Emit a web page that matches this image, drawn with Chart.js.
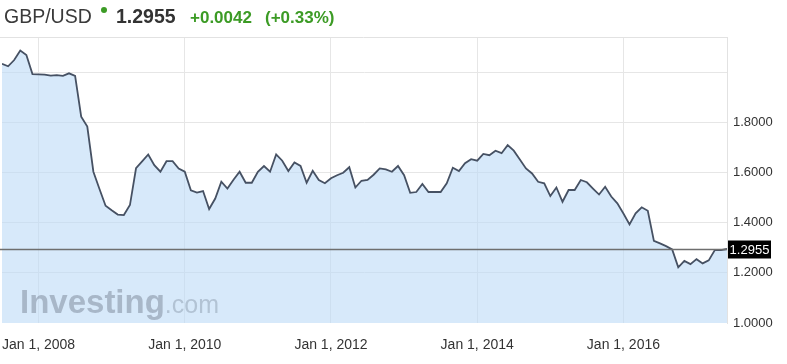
<!DOCTYPE html>
<html>
<head>
<meta charset="utf-8">
<script src="https://cdn.jsdelivr.net/npm/chart.js@4/dist/chart.umd.min.js"></script>
<style>
  html,body{margin:0;padding:0;background:#fff;}
  #wrap{position:relative;width:787px;height:364px;overflow:hidden;font-family:"Liberation Sans",Arial,sans-serif;}
  #c{position:absolute;left:0;top:0;}
  .h{position:absolute;white-space:nowrap;line-height:1;}
  #dot{position:absolute;left:101px;top:7px;width:6px;height:6px;border-radius:50%;background:#3c9b25;}
</style>
</head>
<body>
<div id="wrap">
  <canvas id="c" width="787" height="364"></canvas>
  <span class="h" style="left:4px;top:6.5px;font-size:19.5px;color:#3a3a3a;">GBP/USD</span>
  <span id="dot"></span>
  <span class="h" style="left:116px;top:6.5px;font-size:19.5px;font-weight:bold;color:#333;">1.2955</span>
  <span class="h" style="left:190px;top:8.6px;font-size:17px;font-weight:bold;color:#3c9b25;">+0.0042</span>
  <span class="h" style="left:265px;top:8.6px;font-size:17px;font-weight:bold;color:#3c9b25;">(+0.33%)</span>
</div>
<script>
// ---- data ----
const startYear = 2007;
const startMonth = 7; // July 2007, monthly closes
const rates = [
  // 2007 Jul-Dec
  2.035, 2.025, 2.050, 2.088, 2.070, 1.994,
  // 2008
  1.993, 1.992, 1.988, 1.990, 1.987, 1.997, 1.987, 1.824, 1.784, 1.604, 1.535, 1.468,
  // 2009
  1.450, 1.433, 1.431, 1.471, 1.618, 1.645, 1.673, 1.630, 1.604, 1.646, 1.646, 1.617,
  // 2010
  1.604, 1.530, 1.521, 1.527, 1.455, 1.497, 1.564, 1.537, 1.572, 1.604, 1.560, 1.560,
  // 2011
  1.604, 1.627, 1.604, 1.673, 1.648, 1.607, 1.641, 1.627, 1.560, 1.608, 1.571, 1.558,
  // 2012
  1.578, 1.590, 1.600, 1.622, 1.541, 1.568, 1.571, 1.592, 1.617, 1.613, 1.604, 1.627,
  // 2013
  1.590, 1.520, 1.523, 1.555, 1.523, 1.523, 1.523, 1.558, 1.620, 1.607, 1.638, 1.654,
  // 2014
  1.648, 1.675, 1.670, 1.688, 1.678, 1.710, 1.688, 1.653, 1.617, 1.597, 1.564, 1.558,
  // 2015
  1.507, 1.541, 1.484, 1.531, 1.531, 1.571, 1.562, 1.537, 1.513, 1.544, 1.505, 1.478,
  // 2016
  1.437, 1.394, 1.438, 1.462, 1.448, 1.328, 1.318, 1.307, 1.294, 1.222, 1.248, 1.235,
  // 2017 Jan-Jun
  1.255, 1.238, 1.250, 1.291, 1.291, 1.2955
];
const lastPrice = 1.2955;
const xTickMonths = ['2008-01', '2010-01', '2012-01', '2014-01', '2016-01'];
const xTickLabels = ['Jan 1, 2008', 'Jan 1, 2010', 'Jan 1, 2012', 'Jan 1, 2014', 'Jan 1, 2016'];
const yTicks = [1.0, 1.2, 1.4, 1.6, 1.8, 2.0];
const yTickLabels = ['1.0000', '1.2000', '1.4000', '1.6000', '1.8000', ''];

// month keys for each point
const months = rates.map((_, i) => {
  const t = (startMonth - 1) + i;
  const y = startYear + Math.floor(t / 12);
  const m = (t % 12) + 1;
  return y + '-' + String(m).padStart(2, '0');
});
const points = rates.map((v, i) => ({ x: i, y: v }));
const xTickIdx = xTickMonths.map(k => months.indexOf(k));

const FONT = '"Liberation Sans", Arial, sans-serif';

const decor = {
  id: 'decor',
  beforeDatasetsDraw(chart) {
    const { ctx, chartArea: a } = chart;
    ctx.save();
    ctx.strokeStyle = '#e2e2e2';
    ctx.lineWidth = 1;
    ctx.beginPath();
    ctx.moveTo(0, a.top + 0.5);
    ctx.lineTo(a.right, a.top + 0.5);
    ctx.stroke();
    ctx.restore();
  },
  afterDatasetsDraw(chart) {
    const { ctx, chartArea: a, scales } = chart;
    ctx.save();
    // watermark
    ctx.textBaseline = 'alphabetic';
    ctx.textAlign = 'left';
    ctx.font = 'bold 33px ' + FONT;
    ctx.fillStyle = 'rgba(110,122,140,0.45)';
    ctx.fillText('Investing', 20, 313);
    const w = ctx.measureText('Investing').width;
    ctx.font = '25px ' + FONT;
    ctx.fillStyle = 'rgba(110,122,140,0.35)';
    ctx.fillText('.com', 20 + w, 313);
    // current price line
    const py = Math.round(scales.y.getPixelForValue(lastPrice)) + 0.5;
    ctx.strokeStyle = '#6e6e6e';
    ctx.lineWidth = 1.5;
    ctx.beginPath();
    ctx.moveTo(0, py);
    ctx.lineTo(a.right, py);
    ctx.stroke();
    // price box
    ctx.fillStyle = '#000';
    ctx.fillRect(a.right + 1, py - 9, 43, 18);
    ctx.fillStyle = '#fff';
    ctx.font = '13px ' + FONT;
    ctx.textBaseline = 'middle';
    ctx.textAlign = 'center';
    ctx.fillText(lastPrice.toFixed(4), a.right + 22.5, py + 0.5);
    ctx.restore();
  }
};

new Chart(document.getElementById('c'), {
  type: 'line',
  data: {
    datasets: [{
      data: points,
      borderColor: '#465163',
      borderWidth: 1.8,
      backgroundColor: 'rgba(188,218,247,0.6)',
      fill: 'start',
      pointRadius: 0,
      tension: 0
    }]
  },
  options: {
    responsive: false,
    animation: false,
    devicePixelRatio: 1,
    layout: { padding: { left: 2, top: 37, right: 0, bottom: 0 } },
    plugins: { legend: { display: false }, tooltip: { enabled: false } },
    scales: {
      x: {
        type: 'linear',
        min: 0,
        max: rates.length - 1,
        afterBuildTicks: s => { s.ticks = xTickIdx.map(v => ({ value: v })); },
        afterFit: s => { s.height = 41; s.paddingLeft = 0; s.paddingRight = 0; },
        grid: { color: '#e6e6e6', drawTicks: false },
        border: { display: false },
        ticks: {
          padding: 14,
          maxRotation: 0,
          autoSkip: false,
          color: '#333',
          font: { family: FONT, size: 14 },
          callback: v => { const k = xTickIdx.indexOf(v); return k >= 0 ? xTickLabels[k] : ''; }
        }
      },
      y: {
        position: 'right',
        min: 1.0,
        max: 2.142,
        afterBuildTicks: s => { s.ticks = yTicks.map(v => ({ value: v })); },
        afterFit: s => { s.width = 60; s.paddingTop = 0; s.paddingBottom = 0; },
        grid: {
          drawTicks: false,
          color: c => (c.tick && Math.abs(c.tick.value - 1.0) < 1e-9) ? 'rgba(0,0,0,0)' : '#e6e6e6'
        },
        border: { display: true, color: '#e2e2e2' },
        ticks: {
          padding: 6,
          color: '#333',
          font: { family: FONT, size: 13 },
          callback: v => { const k = yTicks.findIndex(t => Math.abs(t - v) < 1e-9); return k >= 0 ? yTickLabels[k] : ''; }
        }
      }
    }
  },
  plugins: [decor]
});
</script>
</body>
</html>
